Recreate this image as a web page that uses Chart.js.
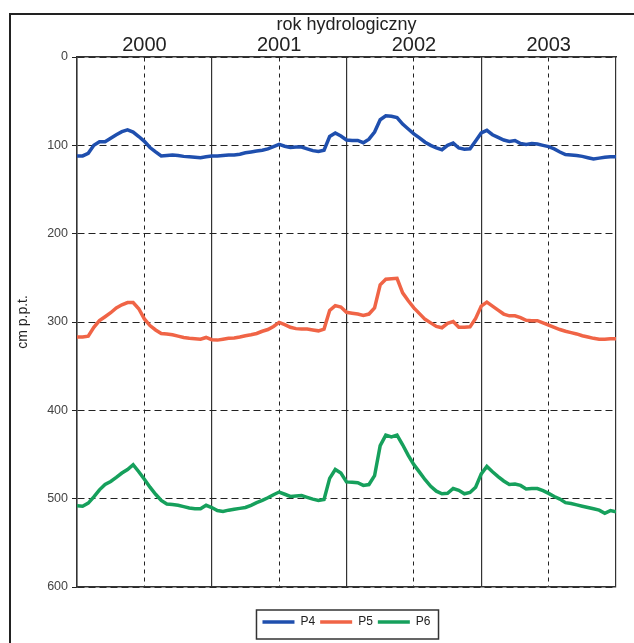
<!DOCTYPE html>
<html>
<head>
<meta charset="utf-8">
<script src="https://cdn.jsdelivr.net/npm/chart.js@4/dist/chart.umd.min.js"></script>
<style>
  html, body { margin: 0; padding: 0; background: #fff; }
  #wrap { width: 634px; height: 643px; }
</style>
</head>
<body>
<div id="wrap"><canvas id="chart" width="634" height="643"></canvas></div>
<script>
// months since start of hydrological year 2000 (half-month steps)
let months = [
	0, 0.5, 1, 1.5, 2, 2.5, 3, 3.5, 4, 4.5,
	5, 5.5, 6, 6.5, 7, 7.5, 8, 8.5, 9, 9.5,
	10, 10.5, 11, 11.5, 12, 12.5, 13, 13.5, 14, 14.5,
	15, 15.5, 16, 16.5, 17, 17.5, 18, 18.5, 19, 19.5,
	20, 20.5, 21, 21.5, 22, 22.5, 23, 23.5, 24, 24.5,
	25, 25.5, 26, 26.5, 27, 27.5, 28, 28.5, 29, 29.5,
	30, 30.5, 31, 31.5, 32, 32.5, 33, 33.5, 34, 34.5,
	35, 35.5, 36, 36.5, 37, 37.5, 38, 38.5, 39, 39.5,
	40, 40.5, 41, 41.5, 42, 42.5, 43, 43.5, 44, 44.5,
	45, 45.5, 46, 46.5, 47, 47.5, 48,
];
let p4 = [
	112, 112, 109, 100, 96, 96, 92, 88, 84.5, 82.5,
	85, 90, 95.5, 102.5, 107.5, 112, 111.5, 111, 111.5, 112.5,
	113, 113.5, 114, 113, 112, 112, 111.5, 111, 111, 110,
	108.5, 107.5, 106.5, 105.5, 104, 101.5, 99, 101, 102.5, 102,
	102, 104, 106, 107, 105.5, 90, 86, 89.5, 94, 94.5,
	94.5, 97, 93, 85, 71, 66.5, 67, 68.5, 76, 81.5,
	87, 91.5, 96.5, 100, 103, 105, 100, 97.5, 103, 104.5,
	104, 95, 86, 83, 88, 91, 94, 95.5, 94.5, 98,
	99, 98, 98.5, 100, 101.5, 104, 107.5, 110.5, 111, 111.5,
	112.5, 114, 115.5, 114.5, 113.5, 113, 113,
];
let p5 = [
	317, 317, 316, 306, 298.5, 294, 289.5, 284, 280.5, 278,
	278, 285, 296.5, 304, 309, 313, 313.5, 314.5, 316, 317.5,
	318.5, 319, 319.5, 317.5, 320, 320.5, 319.5, 318.5, 318, 317,
	315.5, 314.5, 313, 310.5, 308.5, 305, 300.5, 303, 306, 307.5,
	308, 308, 309, 310, 308, 287, 281.5, 283, 289, 290,
	291, 292.5, 291, 284, 258, 251.5, 251, 250.5, 267, 276,
	284, 290.5, 297, 301, 305, 306.5, 301.5, 299.5, 306, 306,
	305.5, 296, 282, 277.5, 282, 286.5, 291, 293, 293, 295,
	298, 298.5, 298.5, 301, 303.5, 306, 308.5, 310.5, 312, 313.5,
	315.5, 317, 318.5, 319.5, 319.5, 319, 319,
];
let p6 = [
	508, 508.5, 505, 498, 490, 484, 480.5, 476, 471, 467,
	461.5, 469.5, 478, 487, 495, 502, 506, 506.5, 507.5, 509,
	510.5, 511.5, 511.5, 507.5, 510, 513.5, 514.5, 513, 512, 511,
	510, 507.5, 504.5, 502, 499, 495.5, 492.5, 495, 497.5, 497,
	496.5, 498.5, 500.5, 502, 501, 477, 467, 471, 481, 481.5,
	482, 485, 484, 474, 440, 428, 430, 428, 439, 451,
	461.5, 470, 478.5, 486, 491.5, 494.5, 494, 488.5, 490.5, 494.5,
	493, 487, 472, 463.5, 469.5, 475, 480, 484, 483.5, 485,
	489, 488.5, 488.5, 491, 494, 497.5, 500.5, 504.5, 505.5, 507,
	508.5, 510, 511.5, 513, 516.5, 513.5, 515,
];
let seriesNames = ["P4", "P5", "P6"];
let seriesColors = ["#1f4fae", "#f06446", "#16a05c"];
let yearLabels = ["2000", "2001", "2002", "2003"];
let yearMid = [6, 18, 30, 42];
let yTicks = [0, 100, 200, 300, 400, 500, 600];

Chart.defaults.font.family = "'Liberation Sans', Arial, sans-serif";

let toPoints = (vals) => vals.map((v, i) => ({ x: months[i], y: v }));

let framePlugin = {
	id: "frame",
	beforeDraw(chart) {
		let ctx = chart.ctx;
		ctx.save();
		ctx.fillStyle = "#fff";
		ctx.fillRect(0, 0, chart.width, chart.height);
		ctx.strokeStyle = "#222";
		ctx.lineWidth = 2;
		ctx.beginPath();
		ctx.moveTo(10, chart.height);
		ctx.lineTo(10, 14);
		ctx.lineTo(chart.width, 14);
		ctx.stroke();
		ctx.restore();
	},
	afterDraw(chart) {
		let lg = chart.legend;
		if (!lg || !lg.legendHitBoxes.length) return;
		let boxes = lg.legendHitBoxes;
		let left = Math.min(...boxes.map((b) => b.left)) - 6;
		let right = Math.max(...boxes.map((b) => b.left + b.width)) + 8;
		let ctx = chart.ctx;
		ctx.save();
		ctx.strokeStyle = "#333";
		ctx.lineWidth = 1.5;
		ctx.strokeRect(left, lg.top - 1, right - left, lg.bottom - lg.top + 2);
		ctx.restore();
	},
};

let renderChart = () => {
	let el = document.getElementById("chart");

	new Chart(el, {
		type: "line",
		data: {
			datasets: [p4, p5, p6].map((vals, i) => ({
				label: seriesNames[i],
				data: toPoints(vals),
				borderColor: seriesColors[i],
				backgroundColor: seriesColors[i],
				borderWidth: 3.5,
				pointRadius: 0,
				tension: 0,
				xAxisID: "x",
			})),
		},
		options: {
			responsive: false,
			animation: false,
			layout: { padding: { left: 10, right: 18, top: 0, bottom: 5 } },
			plugins: {
				tooltip: { enabled: false },
				legend: {
					position: "bottom",
					fullSize: false,
					labels: {
						usePointStyle: true,
						pointStyle: "line",
						pointStyleWidth: 32,
						boxHeight: 12,
						padding: 5,
						color: "#222",
						font: { size: 12 },
					},
				},
			},
			scales: {
				x: {
					type: "linear",
					position: "bottom",
					min: 0,
					max: 48,
					ticks: { stepSize: 12, display: false },
					grid: { color: "#333", lineWidth: 1.2, drawTicks: false },
					border: { display: true, color: "#333", width: 1.5 },
					afterFit: (s) => { s.height = 24; },
				},
				xTop: {
					type: "linear",
					axis: "x",
					position: "top",
					min: 0,
					max: 48,
					afterBuildTicks: (s) => { s.ticks = yearMid.map((v) => ({ value: v })); },
					ticks: {
						callback: (v) => yearLabels[yearMid.indexOf(v)],
						color: "#222",
						font: { size: 20 },
						padding: 0,
						maxRotation: 0,
						autoSkip: false,
					},
					grid: { color: "#222", lineWidth: 1, drawTicks: false },
					border: { display: true, color: "#333", width: 1.5, dash: [4, 4] },
					title: {
						display: true,
						text: "rok hydrologiczny",
						color: "#222",
						font: { size: 18 },
						padding: { top: 14, bottom: 0 },
					},
					afterFit: (s) => { s.height = 57; },
				},
				y: {
					reverse: true,
					min: 0,
					max: 600,
					afterBuildTicks: (s) => { s.ticks = yTicks.map((v) => ({ value: v })); },
					ticks: { color: "#444", font: { size: 12.5 }, padding: 4 },
					grid: { color: "#222", lineWidth: 1, tickLength: 5 },
					border: { display: true, color: "#333", width: 1.5, dash: [7, 4] },
					title: {
						display: true,
						text: "cm p.p.t.",
						color: "#222",
						font: { size: 14 },
						padding: { top: 5, bottom: 0 },
					},
					afterFit: (s) => { s.width = 67; },
				},
			},
		},
		plugins: [framePlugin],
	});
};
renderChart();
</script>
</body>
</html>
